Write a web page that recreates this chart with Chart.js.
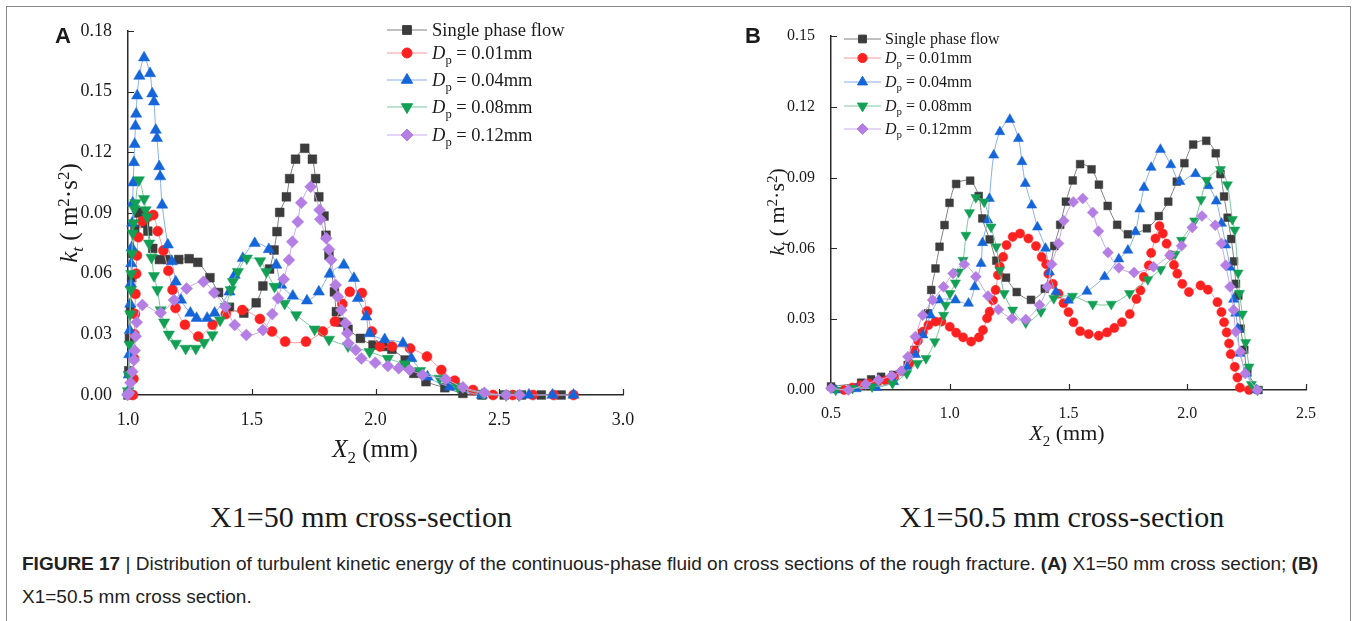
<!DOCTYPE html>
<html lang="en">
<head>
<meta charset="UTF-8" />
<title>Turbulent kinetic energy on cross sections</title>
<script src="https://cdn.jsdelivr.net/npm/chart.js"></script>
<style>
  * { box-sizing: border-box; }
  body {
    margin: 0;
    width: 1356px;
    height: 621px;
    background: #fff;
    position: relative;
    overflow: hidden;
    font-family: 'Liberation Serif', serif;
    color: #1a1a1a;
  }
  .frame {
    position: absolute;
    left: 6px;
    top: 6px;
    width: 1345px;
    height: 640px;
    border: 1px solid #8a8a8a;
  }
  canvas { position: absolute; top: 0; }
  #chartA { left: 0; }
  #chartB { left: 680px; }
  .t { position: absolute; white-space: nowrap; line-height: 1; }
  .c { transform: translate(-50%, -50%); }
  .rot { transform: translate(-50%, -50%) rotate(-90deg); }
  .l { transform: translateY(-50%); }
  .sb { font-size: 0.68em; position: relative; top: 0.38em; }
  .sp { font-size: 0.68em; position: relative; top: -0.48em; }
  i { font-style: italic; }
  .letter { font-family: 'Liberation Sans', Arial, sans-serif; font-weight: bold; font-size: 22px; }
  .sub { font-size: 30px; }
  .cap { font-family: 'Liberation Sans Narrow', 'Liberation Sans', sans-serif; font-size: 19px; color: #222; left: 22px; transform-origin: 0 50%; }
  .cap b { font-weight: bold; }
</style>
</head>
<body>
<div class="frame"></div>
<canvas id="chartA" width="680" height="470"></canvas>
<canvas id="chartB" width="676" height="470"></canvas>

<div class="t c letter" style="left:63px; top:36px;">A</div>
<div class="t c letter" style="left:753px; top:36px;">B</div>

<div class="t rot" style="left:68px; top:213px; font-size:25px;"><i>k</i><span class="sb"><i>t</i></span> ( m<span class="sp">2</span>·s<span class="sp">2</span>)</div>
<div class="t c" style="left:375px; top:448px; font-size:25px;"><i>X</i><span class="sb">2</span> (mm)</div>
<div class="t rot" style="left:777px; top:212px; font-size:22px;"><i>k</i><span class="sb"><i>t</i></span> ( m<span class="sp">2</span>·s<span class="sp">2</span>)</div>
<div class="t c" style="left:1067px; top:433px; font-size:22px;"><i>X</i><span class="sb">2</span> (mm)</div>

<div id="legendA"></div>
<div id="legendB"></div>

<div class="t c sub" style="left:361px; top:517px;">X1=50 mm cross-section</div>
<div class="t c sub" style="left:1062px; top:517px;">X1=50.5 mm cross-section</div>

<div class="t cap" id="cap1" style="top:563px;"><span class="l" style="display:inline-block;"><b>FIGURE 17</b> | Distribution of turbulent kinetic energy of the continuous-phase fluid on cross sections of the rough fracture. <b>(A)</b> X1=50 mm cross section; <b>(B)</b></span></div>
<div class="t cap" id="cap2" style="top:596px;"><span class="l" style="display:inline-block;">X1=50.5 mm cross section.</span></div>

<script>
  // Series labels
  const seriesNames = ['Single phase flow', 'D_p = 0.01mm', 'D_p = 0.04mm', 'D_p = 0.08mm', 'D_p = 0.12mm'];

  // Tick labels
  const aXTicks = [1.0, 1.5, 2.0, 2.5, 3.0];
  const aYTicks = [0, 0.03, 0.06, 0.09, 0.12, 0.15, 0.18];
  const bXTicks = [0.5, 1.0, 1.5, 2.0, 2.5];
  const bYTicks = [0, 0.03, 0.06, 0.09, 0.12, 0.15];

  // (A) X1 = 50 mm cross-section, [X2 (mm), kt]
  const aSingle = [[1.000,0.000],[1.003,0.012],[1.006,0.028],[1.010,0.042],[1.015,0.058],[1.020,0.070],[1.028,0.082],[1.040,0.090],[1.050,0.0905],[1.067,0.085],[1.080,0.081],[1.100,0.0725],[1.127,0.067],[1.160,0.067],[1.205,0.067],[1.247,0.0674],[1.282,0.0656],[1.331,0.058],[1.366,0.0507],[1.410,0.0434],[1.468,0.0405],[1.518,0.0456],[1.545,0.0539],[1.572,0.0623],[1.590,0.0717],[1.602,0.0808],[1.613,0.0903],[1.640,0.098],[1.653,0.107],[1.677,0.1166],[1.714,0.122],[1.745,0.1166],[1.758,0.107],[1.771,0.098],[1.792,0.0885],[1.800,0.079],[1.812,0.0692],[1.834,0.051],[1.842,0.0412],[1.860,0.036],[1.889,0.0325],[1.939,0.028],[1.990,0.0247],[2.030,0.024],[2.066,0.0226],[2.120,0.0173],[2.155,0.0107],[2.204,0.0066],[2.280,0.0036],[2.353,0.0008],[2.430,0],[2.520,0],[2.590,0],[2.670,0],[2.750,0]];
  const aD001 = [[1.020,0],[1.022,0.008],[1.024,0.018],[1.026,0.030],[1.028,0.040],[1.030,0.050],[1.033,0.060],[1.036,0.069],[1.042,0.078],[1.058,0.086],[1.080,0.088],[1.102,0.089],[1.120,0.081],[1.143,0.0715],[1.163,0.0614],[1.180,0.052],[1.192,0.043],[1.230,0.0347],[1.284,0.0289],[1.342,0.0347],[1.395,0.040],[1.462,0.042],[1.533,0.0376],[1.582,0.0314],[1.635,0.0264],[1.719,0.0264],[1.787,0.0314],[1.836,0.0363],[1.866,0.045],[1.896,0.051],[1.945,0.0504],[1.966,0.0413],[1.985,0.0314],[2.018,0.024],[2.067,0.024],[2.140,0.023],[2.208,0.019],[2.266,0.0124],[2.320,0.0071],[2.394,0.0025],[2.475,0],[2.555,0],[2.636,0],[2.720,0],[2.800,0]];
  const aD004 = [[1.000,0.002],[1.003,0.010],[1.005,0.020],[1.007,0.032],[1.009,0.045],[1.011,0.055],[1.013,0.065],[1.015,0.073],[1.017,0.085],[1.019,0.095],[1.021,0.105],[1.024,0.115],[1.027,0.124],[1.030,0.133],[1.033,0.139],[1.037,0.148],[1.046,0.1577],[1.065,0.1668],[1.089,0.159],[1.098,0.149],[1.105,0.145],[1.112,0.131],[1.117,0.127],[1.126,0.113],[1.130,0.108],[1.138,0.094],[1.161,0.0743],[1.177,0.066],[1.193,0.056],[1.214,0.047],[1.252,0.0405],[1.277,0.038],[1.320,0.038],[1.350,0.0405],[1.410,0.051],[1.431,0.0593],[1.464,0.0676],[1.512,0.075],[1.569,0.072],[1.599,0.0643],[1.619,0.0544],[1.666,0.049],[1.723,0.0466],[1.771,0.051],[1.815,0.0598],[1.872,0.0643],[1.913,0.0577],[1.929,0.0478],[1.963,0.0387],[1.976,0.0304],[2.037,0.0275],[2.111,0.0256],[2.145,0.0181],[2.210,0.009],[2.300,0.004],[2.430,0],[2.620,0],[2.715,0],[2.800,0]];
  const aD008 = [[1.000,0.002],[1.003,0.010],[1.006,0.025],[1.009,0.040],[1.011,0.052],[1.013,0.060],[1.016,0.070],[1.019,0.080],[1.022,0.085],[1.026,0.092],[1.030,0.095],[1.044,0.1063],[1.065,0.097],[1.071,0.0915],[1.077,0.088],[1.085,0.075],[1.095,0.068],[1.105,0.059],[1.119,0.052],[1.132,0.042],[1.146,0.036],[1.165,0.030],[1.193,0.0255],[1.233,0.023],[1.274,0.023],[1.307,0.0259],[1.341,0.0297],[1.372,0.037],[1.395,0.0437],[1.415,0.052],[1.424,0.056],[1.444,0.061],[1.480,0.0676],[1.534,0.0663],[1.559,0.061],[1.592,0.0536],[1.633,0.0453],[1.680,0.0396],[1.754,0.0325],[1.812,0.0275],[1.889,0.0242],[1.976,0.0214],[2.050,0.018],[2.118,0.0153],[2.180,0.012],[2.259,0.0082],[2.333,0.004],[2.434,0.0008],[2.528,0],[2.580,0]];
  const aD012 = [[0.998,0],[1.004,0.001],[1.010,0.006],[1.0175,0.0115],[1.024,0.0173],[1.027,0.022],[1.031,0.029],[1.035,0.036],[1.058,0.0445],[1.132,0.0407],[1.186,0.047],[1.237,0.0527],[1.305,0.056],[1.348,0.0506],[1.393,0.0437],[1.431,0.0346],[1.478,0.0297],[1.545,0.0321],[1.583,0.040],[1.606,0.0478],[1.629,0.0572],[1.650,0.0668],[1.664,0.0758],[1.686,0.0857],[1.700,0.0951],[1.738,0.103],[1.774,0.0915],[1.777,0.0869],[1.801,0.0775],[1.812,0.072],[1.821,0.0668],[1.839,0.0544],[1.848,0.0486],[1.862,0.042],[1.879,0.0355],[1.886,0.0305],[1.890,0.0256],[1.920,0.0223],[1.943,0.0181],[1.999,0.016],[2.050,0.0143],[2.094,0.0132],[2.138,0.0124],[2.190,0.0099],[2.283,0.0078],[2.353,0.0038],[2.440,0.0011],[2.528,0],[2.582,0]];

  // (B) X1 = 50.5 mm cross-section, [X2 (mm), kt]
  const bSingle = [[0.500,0.0015],[0.627,0.0031],[0.669,0.0045],[0.711,0.0056],[0.763,0.0064],[0.823,0.0106],[0.852,0.017],[0.884,0.024],[0.908,0.0325],[0.922,0.0424],[0.940,0.0515],[0.957,0.0607],[0.978,0.0699],[0.999,0.0793],[1.027,0.0873],[1.086,0.0887],[1.122,0.0822],[1.137,0.0727],[1.168,0.0638],[1.196,0.0548],[1.237,0.0476],[1.282,0.0415],[1.342,0.0382],[1.400,0.0429],[1.440,0.061],[1.465,0.070],[1.489,0.0798],[1.518,0.0888],[1.549,0.0957],[1.597,0.0935],[1.628,0.087],[1.665,0.078],[1.705,0.070],[1.750,0.066],[1.830,0.0685],[1.880,0.0737],[1.920,0.0798],[1.956,0.0883],[1.988,0.0961],[2.025,0.104],[2.080,0.1056],[2.120,0.1003],[2.140,0.0915],[2.155,0.082],[2.170,0.073],[2.185,0.064],[2.197,0.0545],[2.205,0.045],[2.215,0.040],[2.225,0.026],[2.240,0.017],[2.253,0.0078],[2.300,0]];
  const bD001 = [[0.555,0],[0.590,0.001],[0.625,0.002],[0.660,0.0028],[0.695,0.0033],[0.730,0.004],[0.767,0.0054],[0.800,0.008],[0.830,0.0113],[0.852,0.0167],[0.866,0.0209],[0.887,0.0247],[0.910,0.0275],[0.940,0.029],[0.965,0.029],[1.000,0.0268],[1.027,0.0243],[1.056,0.0223],[1.090,0.0205],[1.123,0.0223],[1.140,0.0254],[1.157,0.0304],[1.168,0.0332],[1.182,0.038],[1.193,0.0424],[1.203,0.0487],[1.210,0.0524],[1.225,0.0564],[1.239,0.0614],[1.265,0.0649],[1.296,0.0663],[1.331,0.0642],[1.363,0.061],[1.387,0.0564],[1.406,0.0533],[1.415,0.0493],[1.434,0.045],[1.458,0.0408],[1.479,0.0368],[1.500,0.033],[1.521,0.0287],[1.549,0.0249],[1.585,0.0237],[1.627,0.023],[1.662,0.0244],[1.693,0.0263],[1.725,0.0287],[1.758,0.0322],[1.786,0.0386],[1.803,0.0422],[1.817,0.0479],[1.838,0.0528],[1.848,0.0581],[1.866,0.0642],[1.883,0.0695],[1.897,0.0663],[1.913,0.062],[1.930,0.0571],[1.944,0.053],[1.958,0.0493],[1.979,0.045],[2.007,0.0415],[2.056,0.0443],[2.087,0.0425],[2.127,0.0372],[2.144,0.033],[2.155,0.0287],[2.166,0.0244],[2.176,0.0197],[2.183,0.0152],[2.200,0.0098],[2.211,0.0053],[2.222,0.001],[2.260,0]];
  const bD004 = [[0.520,0],[0.606,0.0005],[0.691,0.001],[0.764,0.0035],[0.819,0.0099],[0.856,0.015],[0.887,0.0233],[0.919,0.0317],[0.956,0.0381],[1.024,0.0381],[1.079,0.0367],[1.105,0.0437],[1.132,0.0536],[1.138,0.0624],[1.160,0.072],[1.167,0.0811],[1.185,0.0995],[1.211,0.1094],[1.253,0.1146],[1.289,0.1065],[1.304,0.0967],[1.318,0.0875],[1.345,0.0783],[1.369,0.069],[1.403,0.060],[1.420,0.050],[1.447,0.0416],[1.500,0.038],[1.578,0.0418],[1.652,0.048],[1.712,0.0555],[1.750,0.0592],[1.782,0.067],[1.800,0.0766],[1.818,0.0858],[1.848,0.0943],[1.887,0.1019],[1.931,0.0954],[1.969,0.0883],[2.035,0.0916],[2.089,0.0865],[2.122,0.080],[2.144,0.0706],[2.162,0.0614],[2.180,0.052],[2.195,0.0384],[2.204,0.0325],[2.213,0.026],[2.222,0.0155],[2.250,0.007],[2.291,0]];
  const bD008 = [[0.520,0],[0.590,0.0007],[0.673,0.0014],[0.759,0.0028],[0.819,0.007],[0.864,0.0113],[0.900,0.0134],[0.937,0.0205],[0.974,0.0317],[0.983,0.036],[1.001,0.0409],[1.024,0.0454],[1.037,0.050],[1.056,0.055],[1.068,0.0656],[1.083,0.0752],[1.110,0.0816],[1.145,0.0797],[1.174,0.0691],[1.196,0.0607],[1.211,0.0508],[1.229,0.0409],[1.265,0.0339],[1.320,0.0285],[1.384,0.0332],[1.438,0.0388],[1.517,0.0398],[1.602,0.0364],[1.680,0.0364],[1.757,0.0409],[1.834,0.0468],[1.888,0.0511],[1.949,0.0576],[1.976,0.0635],[2.031,0.0717],[2.058,0.0807],[2.082,0.0889],[2.140,0.0935],[2.169,0.087],[2.190,0.0723],[2.200,0.0678],[2.214,0.0496],[2.220,0.041],[2.232,0.0322],[2.246,0.0202],[2.260,0.0098],[2.270,0.0024],[2.296,0]];
  const bD012 = [[0.500,0.0007],[0.573,0],[0.646,0.0025],[0.700,0.0042],[0.755,0.006],[0.795,0.008],[0.824,0.0141],[0.855,0.0226],[0.886,0.0317],[0.928,0.0381],[0.974,0.0437],[1.014,0.0494],[1.061,0.0533],[1.110,0.048],[1.161,0.0398],[1.205,0.0341],[1.262,0.0303],[1.320,0.0299],[1.378,0.036],[1.411,0.0437],[1.429,0.0533],[1.458,0.0621],[1.480,0.0717],[1.520,0.0797],[1.560,0.0811],[1.602,0.0752],[1.626,0.0673],[1.666,0.0583],[1.712,0.0518],[1.776,0.0498],[1.858,0.0522],[1.927,0.0571],[1.976,0.0611],[2.021,0.0689],[2.062,0.0737],[2.118,0.0698],[2.144,0.0621],[2.162,0.0529],[2.180,0.0437],[2.195,0.0339],[2.204,0.0247],[2.224,0.0162],[2.244,0.007],[2.295,0]];

  const markColors = ['#3c3c3c', '#ff2020', '#1565da', '#12a055', '#b57ee4'];
  const lineColors = ['#808080', '#f39a9a', '#86aeea', '#7cc69c', '#c9a8ee'];
  const pointStyles = ['rect', 'circle', 'triangle', 'triangle', 'rectRot'];
  const pointRotations = [0, 0, 0, 180, 0];
  const serifFont = "'Liberation Serif', 'Times New Roman', serif";

  // inward tick marks, like the original plot
  const inTicks = {
    id: 'inTicks',
    beforeDatasetsDraw(chart) {
      const { ctx, chartArea: a, scales: { x, y } } = chart;
      ctx.save();
      ctx.strokeStyle = '#2a2a2a';
      ctx.lineWidth = 1.2;
      ctx.beginPath();
      x.ticks.forEach(t => {
        const px = Math.round(x.getPixelForValue(t.value)) + 0.5;
        ctx.moveTo(px, a.bottom);
        ctx.lineTo(px, a.bottom - 6);
      });
      y.ticks.forEach(t => {
        const py = Math.round(y.getPixelForValue(t.value)) + 0.5;
        ctx.moveTo(a.left, py);
        ctx.lineTo(a.left + 6, py);
      });
      ctx.stroke();
      ctx.restore();
    }
  };

  // legend line + marker, text is html
  const legendMarks = {
    id: 'legendMarks',
    afterDraw(chart, args, opts) {
      const ctx = chart.ctx;
      chart.data.datasets.forEach((ds, i) => {
        const y = opts.rows[i];
        ctx.save();
        ctx.strokeStyle = ds.borderColor;
        ctx.lineWidth = 1;
        ctx.beginPath();
        ctx.moveTo(opts.x0, y);
        ctx.lineTo(opts.x1, y);
        ctx.stroke();
        ctx.fillStyle = ds.pointBackgroundColor;
        ctx.strokeStyle = ds.pointBorderColor;
        Chart.helpers.drawPoint(ctx, {
          pointStyle: ds.pointStyle,
          radius: ds.pointRadius,
          rotation: ds.pointRotation,
          borderWidth: 0.5
        }, (opts.x0 + opts.x1) / 2, y);
        ctx.restore();
      });
    }
  };

  function makeChart(id, sets, cfg) {
    return new Chart(document.getElementById(id), {
      type: 'scatter',
      data: {
        datasets: sets.map((pts, i) => ({
          label: seriesNames[i],
          data: pts.map(p => ({ x: p[0], y: p[1] })),
          showLine: true,
          borderColor: lineColors[i],
          borderWidth: 1,
          tension: 0.3,
          pointStyle: pointStyles[i],
          pointRotation: pointRotations[i],
          pointRadius: cfg.radius[i],
          pointBackgroundColor: markColors[i],
          pointBorderColor: markColors[i],
          pointBorderWidth: 0.5,
          order: 4 - i,
          clip: false
        }))
      },
      options: {
        responsive: false,
        devicePixelRatio: 1,
        animation: false,
        events: [],
        layout: { padding: cfg.padding },
        plugins: {
          legend: { display: false },
          tooltip: { enabled: false },
          legendMarks: cfg.legend
        },
        scales: {
          x: {
            type: 'linear',
            min: cfg.xTicks[0],
            max: cfg.xTicks[cfg.xTicks.length - 1],
            afterBuildTicks: s => { s.ticks = cfg.xTicks.map(v => ({ value: v })); },
            afterFit: s => { s.height = cfg.xH; },
            grid: { display: false },
            border: { display: true, color: '#2a2a2a', width: 1.5 },
            ticks: {
              color: '#1a1a1a',
              font: { family: serifFont, size: cfg.fs },
              padding: 6,
              maxRotation: 0,
              autoSkip: false,
              callback: v => v.toFixed(1)
            }
          },
          y: {
            type: 'linear',
            min: 0,
            max: cfg.yTicks[cfg.yTicks.length - 1],
            afterBuildTicks: s => { s.ticks = cfg.yTicks.map(v => ({ value: v })); },
            afterFit: s => { s.width = cfg.yW; },
            grid: { display: false },
            border: { display: true, color: '#2a2a2a', width: 1.5 },
            ticks: {
              color: '#1a1a1a',
              font: { family: serifFont, size: cfg.fs },
              padding: 8,
              autoSkip: false,
              callback: v => v.toFixed(2)
            }
          }
        }
      },
      plugins: [inTicks, legendMarks]
    });
  }

  makeChart('chartA', [aSingle, aD001, aD004, aD008, aD012], {
    xTicks: aXTicks, yTicks: aYTicks,
    padding: { left: 0, top: 31, right: 57, bottom: 0 },
    yW: 128, xH: 75, fs: 18,
    radius: [6.2, 5, 6.5, 6.5, 6],
    legend: { x0: 387, x1: 427, rows: [30, 53, 80, 107, 135] }
  });

  makeChart('chartB', [bSingle, bD001, bD004, bD008, bD012], {
    xTicks: bXTicks, yTicks: bYTicks,
    padding: { left: 0, top: 36, right: 50, bottom: 0 },
    yW: 151, xH: 80, fs: 16,
    radius: [5.5, 4.6, 5.8, 5.8, 5.5],
    legend: { x0: 164, x1: 201, rows: [39, 58, 82, 106, 129] }
  });

  // legend text
  function legendText(boxId, left, rows, size) {
    const box = document.getElementById(boxId);
    seriesNames.forEach((name, i) => {
      const d = document.createElement('div');
      d.className = 't l';
      d.style.left = left + 'px';
      d.style.top = rows[i] + 'px';
      d.style.fontSize = size + 'px';
      if (name.startsWith('D_p')) {
        d.innerHTML = '<i>D</i><span class="sb">p</span>' + name.slice(3);
      } else {
        d.textContent = name;
      }
      box.appendChild(d);
    });
  }
  legendText('legendA', 432, [30, 53, 80, 107, 135], 18.5);
  legendText('legendB', 885, [39, 58, 82, 106, 129], 16);

  // fit the condensed caption to the original line width
  const cap1 = document.getElementById('cap1');
  const cap2 = document.getElementById('cap2');
  const k = 1296 / cap1.firstElementChild.getBoundingClientRect().width;
  cap1.style.transform = 'scaleX(' + k + ')';
  cap2.style.transform = 'scaleX(' + k + ')';
</script>
</body>
</html>
